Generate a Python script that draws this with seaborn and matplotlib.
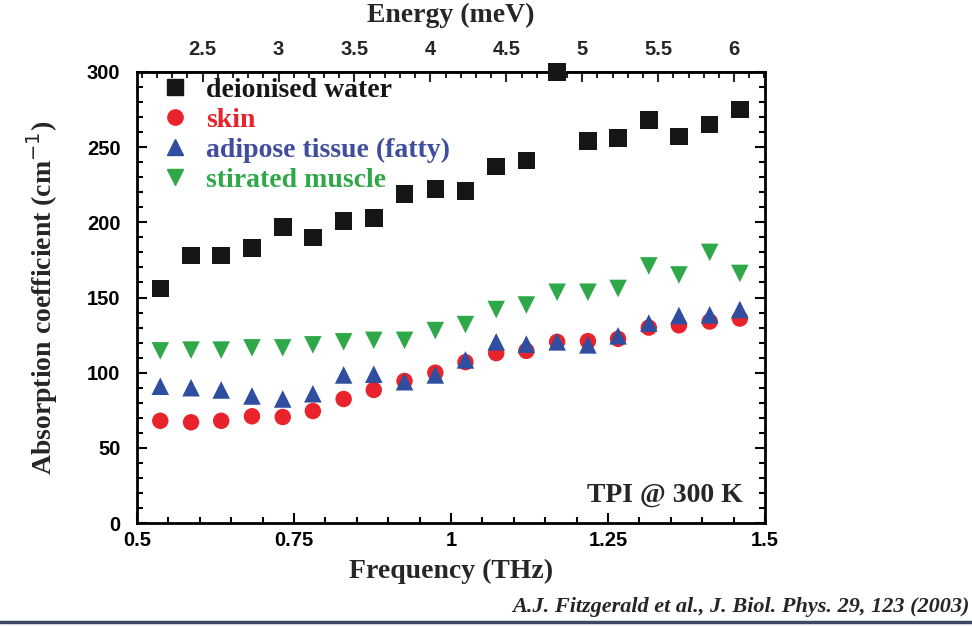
import numpy as np
import matplotlib.pyplot as plt
import seaborn as sns
import pandas as pd
from matplotlib.ticker import MultipleLocator
from matplotlib.lines import Line2D

# frequency (THz) of each measurement
freq = [0.537, 0.586, 0.634, 0.683, 0.732, 0.780, 0.829, 0.877, 0.926, 0.975,
        1.023, 1.072, 1.120, 1.169, 1.218, 1.266, 1.315, 1.363, 1.412, 1.460]

water = [156, 178, 178, 183, 197, 190, 201, 203, 219, 222,
         221, 237, 241, 300, 254, 256, 268, 257, 265, 275]
skin = [68, 67, 68, 71, 70.5, 74.5, 82.5, 88.5, 94.5, 100,
        107, 113, 114.5, 120.5, 121, 122.5, 130, 131.5, 134, 136]
adipose = [91, 90, 88.5, 84.5, 82.5, 86, 98.5, 99, 94, 98.5,
           108.5, 120.5, 119, 120.5, 118.5, 124.5, 133, 138, 138.5, 142]
muscle = [114.5, 115, 115, 116.5, 116.5, 118.5, 120.5, 121.5, 121.5, 128,
          132, 142, 145, 153.5, 153.5, 156, 171, 165, 180, 166]

labels = ["deionised water", "skin", "adipose tissue (fatty)", "stirated muscle"]
energy_ticks = [2.5, 3, 3.5, 4, 4.5, 5, 5.5, 6]

THZ_TO_MEV = 4.1357

sns.set_theme(style="white")
serif = ["Liberation Serif", "DejaVu Serif"]
tickfont = ["Liberation Sans Narrow", "Liberation Sans", "DejaVu Sans"]

series = [
    (water, "#161616", "s", "#161616"),
    (skin, "#e8232b", "o", "#e8232b"),
    (adipose, "#2f4e9f", "^", "#3f4d9e"),
    (muscle, "#2fa84a", "v", "#2fa84a"),
]

fig = plt.figure(figsize=(9.72, 6.26), dpi=100)
ax = fig.add_axes([0.141, 0.1645, 0.646, 0.7205])

df = pd.DataFrame({"freq": freq})
for (vals, col, mk, _), lab in zip(series, labels):
    df[lab] = vals
    sns.scatterplot(data=df, x="freq", y=lab, ax=ax, color=col, marker=mk,
                    s=160 if mk != "o" else 140, edgecolor="none", linewidth=0,
                    label=lab, clip_on=False, zorder=3)

ax.set_xlim(0.5, 1.5)
ax.set_ylim(0, 300)
ax.xaxis.set_major_locator(MultipleLocator(0.25))
ax.xaxis.set_minor_locator(MultipleLocator(0.05))
ax.yaxis.set_major_locator(MultipleLocator(50))
ax.yaxis.set_minor_locator(MultipleLocator(10))
ax.set_xticks([0.5, 0.75, 1, 1.25, 1.5])
ax.set_xticklabels(["0.5", "0.75", "1", "1.25", "1.5"])
ax.tick_params(which="both", direction="in", top=False, right=True, left=True,
               bottom=True, width=1.5, colors="black")
ax.tick_params(which="major", length=7, labelsize=14.5, pad=6)
ax.tick_params(axis="y", which="major", pad=12)
ax.tick_params(which="minor", length=4)
for lbl in ax.get_xticklabels() + ax.get_yticklabels():
    lbl.set_fontfamily(tickfont)
    lbl.set_fontweight("bold")
for sp in ax.spines.values():
    sp.set_linewidth(2)
    sp.set_color("black")

ax.set_xlabel("Frequency (THz)", family=serif, fontweight="bold", fontsize=20,
              labelpad=6)
ax.set_ylabel("Absorption coefficient (cm$^{-1}$)", family=serif,
              fontweight="bold", fontsize=20, labelpad=19)

top = ax.secondary_xaxis("top", functions=(lambda f: f * THZ_TO_MEV,
                                           lambda e: e / THZ_TO_MEV))
top.set_xticks(energy_ticks)
top.set_xticklabels([f"{e:g}" for e in energy_ticks])
top.xaxis.set_minor_locator(MultipleLocator(0.1))
top.tick_params(which="both", direction="in", width=1.5)
top.tick_params(which="major", length=7, labelsize=14.5, pad=9)
top.tick_params(which="minor", length=4)
for lbl in top.get_xticklabels():
    lbl.set_fontfamily(tickfont)
    lbl.set_fontweight("bold")
top.set_xlabel("Energy (meV)", family=serif, fontweight="bold", fontsize=20,
               labelpad=13)

handles = [Line2D([], [], linestyle="none", marker=mk, color=col,
                  markersize=12 if mk != "o" else 11)
           for _, col, mk, _ in series]
leg = ax.legend(handles, labels, loc="upper left", frameon=False,
                prop={"family": serif, "weight": "bold", "size": 20},
                handletextpad=0.5, labelspacing=0.16, borderaxespad=0.1,
                bbox_to_anchor=(0.012, 1.018), handlelength=1.2)
for txt, (_, _, _, tcol) in zip(leg.get_texts(), series):
    txt.set_color(tcol)

ax.text(0.965, 0.035, "TPI @ 300 K", transform=ax.transAxes, ha="right",
        va="bottom", family=serif, fontweight="bold", fontsize=20)

fig.text(0.997, 0.015, "A.J. Fitzgerald et al., J. Biol. Phys. 29, 123 (2003)",
         ha="right", va="bottom", family=serif, fontweight="bold",
         style="italic", fontsize=16)
fig.add_artist(Line2D([0, 1], [0.006, 0.006], transform=fig.transFigure,
                      color="#3b4763", linewidth=2.5))

fig.savefig("out.png", dpi=100)
